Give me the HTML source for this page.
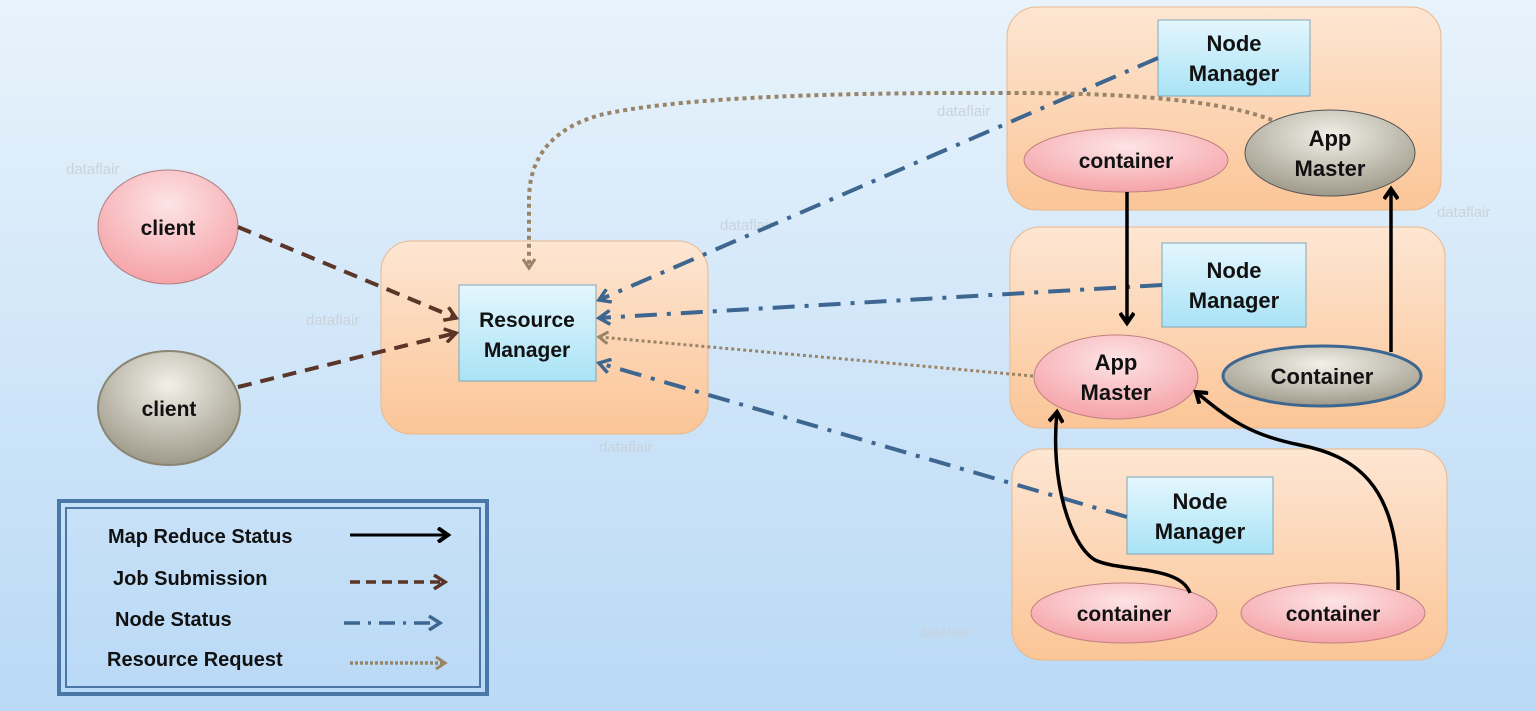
<!DOCTYPE html>
<html><head><meta charset="utf-8"><style>
html,body{margin:0;padding:0;width:1536px;height:711px;overflow:hidden}
svg{display:block}
text{font-family:"Liberation Sans",sans-serif;font-weight:bold;fill:#111}
.wm{font-weight:normal;fill:#c9d3dc;font-size:15px}
</style></head><body>
<svg width="1536" height="711" viewBox="0 0 1536 711" xmlns="http://www.w3.org/2000/svg">
<defs>
<linearGradient id="bg" x1="0" y1="0" x2="0" y2="1"><stop offset="0" stop-color="#e8f3fb"/><stop offset="1" stop-color="#b9d9f6"/></linearGradient>
<linearGradient id="or" x1="0" y1="0" x2="0" y2="1"><stop offset="0" stop-color="#fde6d3"/><stop offset="1" stop-color="#fbc597"/></linearGradient>
<linearGradient id="bl" x1="0" y1="0" x2="0" y2="1"><stop offset="0" stop-color="#e4f6fd"/><stop offset="1" stop-color="#a9e3f6"/></linearGradient>
<radialGradient id="pk" cx="0.5" cy="0.3" r="0.7"><stop offset="0" stop-color="#fde4e6"/><stop offset="1" stop-color="#f5a3a8"/></radialGradient>
<radialGradient id="gr" cx="0.5" cy="0.3" r="0.7"><stop offset="0" stop-color="#f2f0e8"/><stop offset="1" stop-color="#9e9a8a"/></radialGradient>
<marker id="ab" markerWidth="16" markerHeight="16" refX="12" refY="8" orient="auto" markerUnits="userSpaceOnUse"><path d="M2,1 L12,8 L2,15" fill="none" stroke="#000" stroke-width="4"/></marker>
<marker id="abr" markerWidth="16" markerHeight="16" refX="13" refY="8" orient="auto" markerUnits="userSpaceOnUse"><path d="M2,1 L13,8 L2,15" fill="none" stroke="#5a3528" stroke-width="3.5"/></marker>
<marker id="abl" markerWidth="16" markerHeight="16" refX="13" refY="8" orient="auto" markerUnits="userSpaceOnUse"><path d="M2,1 L13,8 L2,15" fill="none" stroke="#3d6690" stroke-width="3.5"/></marker>
<marker id="atn" markerWidth="14" markerHeight="14" refX="11" refY="7" orient="auto" markerUnits="userSpaceOnUse"><path d="M2,1 L11,7 L2,13" fill="none" stroke="#9a8468" stroke-width="3"/></marker>
</defs>
<rect width="1536" height="711" fill="url(#bg)"/>
<g class="wm"><text class="wm" x="66" y="174">dataflair</text><text class="wm" x="306" y="325">dataflair</text><text class="wm" x="720" y="230">dataflair</text><text class="wm" x="937" y="116">dataflair</text><text class="wm" x="599" y="452">dataflair</text><text class="wm" x="1437" y="217">dataflair</text><text class="wm" x="918" y="637">dataflair</text></g>

<rect x="381" y="241" width="327" height="193" rx="30" fill="url(#or)" stroke="#e8b88e"/>
<rect x="1007" y="7" width="434" height="203" rx="30" fill="url(#or)" stroke="#e8b88e"/>
<rect x="1010" y="227" width="435" height="201" rx="30" fill="url(#or)" stroke="#e8b88e"/>
<rect x="1012" y="449" width="435" height="211" rx="30" fill="url(#or)" stroke="#e8b88e"/>

<rect x="459" y="285" width="137" height="96" fill="url(#bl)" stroke="#7fa7b8"/>
<text x="527" y="327" font-size="21" text-anchor="middle">Resource</text>
<text x="527" y="357" font-size="21" text-anchor="middle">Manager</text>

<ellipse cx="168" cy="227" rx="70" ry="57" fill="url(#pk)" stroke="#b08080"/>
<text x="168" y="235" font-size="21" text-anchor="middle">client</text>
<ellipse cx="169" cy="408" rx="71" ry="57" fill="url(#gr)" stroke="#8a8672" stroke-width="2"/>
<text x="169" y="416" font-size="21" text-anchor="middle">client</text>

<rect x="1158" y="20" width="152" height="76" fill="url(#bl)" stroke="#7fa7b8"/>
<text x="1234" y="51" font-size="22" text-anchor="middle">Node</text><text x="1234" y="81" font-size="22" text-anchor="middle">Manager</text>
<rect x="1162" y="243" width="144" height="84" fill="url(#bl)" stroke="#7fa7b8"/>
<text x="1234" y="278" font-size="22" text-anchor="middle">Node</text><text x="1234" y="308" font-size="22" text-anchor="middle">Manager</text>
<rect x="1127" y="477" width="146" height="77" fill="url(#bl)" stroke="#7fa7b8"/>
<text x="1200" y="509" font-size="22" text-anchor="middle">Node</text><text x="1200" y="539" font-size="22" text-anchor="middle">Manager</text>

<ellipse cx="1126" cy="160" rx="102" ry="32" fill="url(#pk)" stroke="#c08080"/>
<text x="1126" y="168" font-size="21" text-anchor="middle">container</text>
<ellipse cx="1330" cy="153" rx="85" ry="43" fill="url(#gr)" stroke="#555"/>
<text x="1330" y="146" font-size="22" text-anchor="middle">App</text><text x="1330" y="176" font-size="22" text-anchor="middle">Master</text>
<ellipse cx="1116" cy="377" rx="82" ry="42" fill="url(#pk)" stroke="#c08080"/>
<text x="1116" y="370" font-size="22" text-anchor="middle">App</text><text x="1116" y="400" font-size="22" text-anchor="middle">Master</text>
<ellipse cx="1322" cy="376" rx="99" ry="30" fill="url(#gr)" stroke="#3d6690" stroke-width="3"/>
<text x="1322" y="384" font-size="22" text-anchor="middle">Container</text>
<ellipse cx="1124" cy="613" rx="93" ry="30" fill="url(#pk)" stroke="#c08080"/>
<text x="1124" y="621" font-size="21" text-anchor="middle">container</text>
<ellipse cx="1333" cy="613" rx="92" ry="30" fill="url(#pk)" stroke="#c08080"/>
<text x="1333" y="621" font-size="21" text-anchor="middle">container</text>

<g fill="none">
<line x1="238" y1="227" x2="456" y2="318" stroke="#5a3528" stroke-width="4" stroke-dasharray="14,9" marker-end="url(#abr)"/>
<line x1="238" y1="387" x2="456" y2="333" stroke="#5a3528" stroke-width="4" stroke-dasharray="14,9" marker-end="url(#abr)"/>
<g stroke="#3d6690" stroke-width="4" stroke-dasharray="22,10,4,10" marker-end="url(#abl)">
<line x1="1158" y1="58" x2="599" y2="300"/>
<line x1="1162" y1="285" x2="599" y2="318"/>
<line x1="1127" y1="517" x2="599" y2="363"/>
</g>
<path d="M1272,120 Q1200,92 1000,93 Q700,92 600,115 Q529,135 529,200 L529,268" stroke="#9a8468" stroke-width="4" stroke-dasharray="4,4" marker-end="url(#atn)"/>
<line x1="1033" y1="376" x2="599" y2="337" stroke="#9a8468" stroke-width="3" stroke-dasharray="3,3" marker-end="url(#atn)"/>
<g stroke="#000" stroke-width="3.5" marker-end="url(#ab)">
<line x1="1127" y1="192" x2="1127" y2="323"/>
<line x1="1391" y1="352" x2="1391" y2="189"/>
<path d="M1190,593 C1180,565 1120,572 1095,560 C1070,545 1050,480 1057,412"/>
<path d="M1398,590 C1400,480 1350,455 1300,445 C1250,435 1230,420 1196,392"/>
</g>
</g>

<rect x="59" y="501" width="428" height="193" fill="none" stroke="#4a77a8" stroke-width="4"/>
<rect x="66" y="508" width="414" height="179" fill="none" stroke="#4a77a8" stroke-width="2"/>
<text x="108" y="543" font-size="20">Map Reduce Status</text>
<text x="113" y="585" font-size="20">Job Submission</text>
<text x="115" y="626" font-size="20">Node Status</text>
<text x="107" y="666" font-size="20">Resource Request</text>
<g fill="none">
<line x1="350" y1="535" x2="448" y2="535" stroke="#000" stroke-width="3" marker-end="url(#ab)"/>
<line x1="350" y1="582" x2="445" y2="582" stroke="#5a3528" stroke-width="3.5" stroke-dasharray="10,6" marker-end="url(#abr)"/>
<line x1="344" y1="623" x2="440" y2="623" stroke="#3d6690" stroke-width="3.5" stroke-dasharray="16,8,3,8" marker-end="url(#abl)"/>
<line x1="350" y1="663" x2="445" y2="663" stroke="#9a8468" stroke-width="3.5" stroke-dasharray="3,2" marker-end="url(#atn)"/>
</g>
</svg>
</body></html>
